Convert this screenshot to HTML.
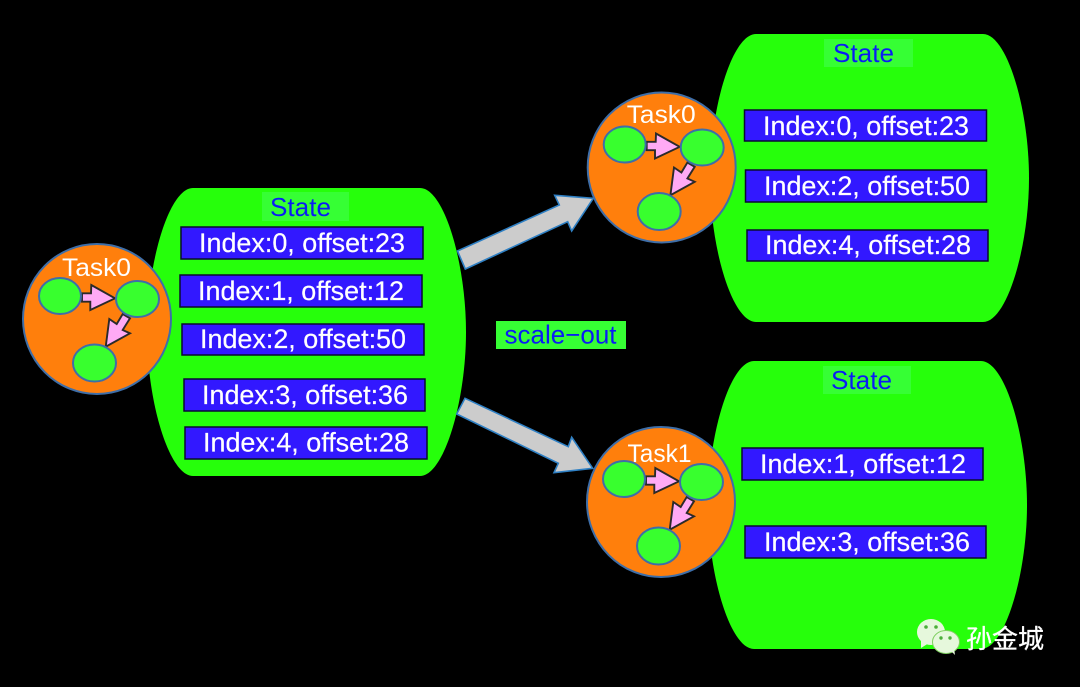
<!DOCTYPE html>
<html>
<head>
<meta charset="utf-8">
<style>
html,body{margin:0;padding:0;background:#000;width:1080px;height:687px;overflow:hidden}
svg{display:block}
text{font-family:"Liberation Sans","Noto Sans CJK SC",sans-serif}
.bar{fill:#3218ff;stroke:#0a0a30;stroke-width:1.5}
.idx{fill:#fff;font-size:26.5px;stroke:#fff;stroke-width:.2}
.st{fill:#36ff34}
.stt{fill:#0a1cf5;font-size:26px}
.big{fill:#ccc;stroke:#2f80c4;stroke-width:1.6;stroke-linejoin:miter}
.c{fill:#ff7f0c;stroke:#3e6ea8;stroke-width:2}
.n{fill:#38ff2e;stroke:#3e6ea8;stroke-width:2}
.a{fill:#ffaaf5;stroke:#2a2a2a;stroke-width:1.9}
.t{fill:#fff;font-size:25px}
</style>
</head>
<body>
<svg width="1080" height="687" viewBox="0 0 1080 687" xmlns="http://www.w3.org/2000/svg">
<rect width="1080" height="687" fill="#000"/>
<defs>
<path id="barrel" d="M46,0H273C297,0 319,75 319,144C319,213 297,288 273,288H46C22,288 0,213 0,144C0,75 22,0 46,0Z" fill="#26ff0b"/>
</defs>
<use href="#barrel" x="147" y="188"/>
<use href="#barrel" x="710" y="34"/>
<use href="#barrel" x="708" y="361"/>

<rect class="st" x="262" y="192" width="87" height="29"/>
<text class="stt" x="270" y="216" textLength="61" lengthAdjust="spacingAndGlyphs">State</text>
<rect class="st" x="824" y="39" width="89" height="28"/>
<text class="stt" x="833" y="62" textLength="61" lengthAdjust="spacingAndGlyphs">State</text>
<rect class="st" x="823" y="366" width="88" height="28"/>
<text class="stt" x="831" y="389" textLength="61" lengthAdjust="spacingAndGlyphs">State</text>

<rect class="bar" x="181" y="227" width="242" height="32"/>
<text class="idx" x="199" y="252" textLength="206" lengthAdjust="spacingAndGlyphs">Index:0, offset:23</text>
<rect class="bar" x="180" y="275" width="242" height="32"/>
<text class="idx" x="198" y="300" textLength="206" lengthAdjust="spacingAndGlyphs">Index:1, offset:12</text>
<rect class="bar" x="182" y="324" width="242" height="31"/>
<text class="idx" x="200" y="348" textLength="206" lengthAdjust="spacingAndGlyphs">Index:2, offset:50</text>
<rect class="bar" x="184" y="379" width="241" height="32"/>
<text class="idx" x="202" y="404" textLength="206" lengthAdjust="spacingAndGlyphs">Index:3, offset:36</text>
<rect class="bar" x="185" y="427" width="242" height="32"/>
<text class="idx" x="203" y="451.500" textLength="206" lengthAdjust="spacingAndGlyphs">Index:4, offset:28</text>

<rect class="bar" x="744.500" y="110" width="242" height="31"/>
<text class="idx" x="763" y="135" textLength="206" lengthAdjust="spacingAndGlyphs">Index:0, offset:23</text>
<rect class="bar" x="745.500" y="170" width="241" height="32"/>
<text class="idx" x="764" y="195" textLength="206" lengthAdjust="spacingAndGlyphs">Index:2, offset:50</text>
<rect class="bar" x="747" y="230" width="241" height="31"/>
<text class="idx" x="765" y="254" textLength="206" lengthAdjust="spacingAndGlyphs">Index:4, offset:28</text>

<rect class="bar" x="742" y="448" width="241" height="32"/>
<text class="idx" x="760" y="473" textLength="206" lengthAdjust="spacingAndGlyphs">Index:1, offset:12</text>
<rect class="bar" x="745" y="526" width="241" height="32"/>
<text class="idx" x="764" y="551" textLength="206" lengthAdjust="spacingAndGlyphs">Index:3, offset:36</text>

<rect class="st" x="496" y="321" width="130" height="28"/>
<text class="stt" x="504.500" y="343.500" textLength="112" lengthAdjust="spacingAndGlyphs">scale−out</text>

<polygon class="big" points="457.5,251 559.3,205 554.7,195.3 593.3,198.3 571.7,231 567.7,221.7 465.3,269"/>
<polygon class="big" points="465,398.3 568.3,446.7 571.7,437.3 592.7,468.3 554,472.7 558.3,463.3 456.7,414"/>

<!-- left task -->
<g>
<ellipse class="c" cx="97" cy="319" rx="74" ry="75"/>
<text class="t" x="62" y="276" textLength="69" lengthAdjust="spacingAndGlyphs">Task0</text>
<polygon class="a" points="82,293.300 91,293.300 91.300,285 115,298.300 90.300,310 90.300,301.700 82,301.700"/>
<polygon class="a" points="122.700,314 130,318.300 122.700,330 130,333.300 105.700,346.700 109.300,319 116.700,324"/>
<ellipse class="n" cx="60" cy="296" rx="21" ry="18"/>
<ellipse class="n" cx="137.500" cy="299" rx="21.500" ry="18"/>
<ellipse class="n" cx="94.500" cy="363" rx="21.500" ry="18.500"/>
</g>
<!-- top right task -->
<g transform="translate(564.7,-151.5)">
<ellipse class="c" cx="97" cy="319" rx="74" ry="75"/>
<text class="t" x="62" y="274.500" textLength="69" lengthAdjust="spacingAndGlyphs">Task0</text>
<polygon class="a" points="82,293.300 91,293.300 91.300,285 115,298.300 90.300,310 90.300,301.700 82,301.700"/>
<polygon class="a" points="122.700,314 130,318.300 122.700,330 130,333.300 105.700,346.700 109.300,319 116.700,324"/>
<ellipse class="n" cx="60" cy="296" rx="21" ry="18"/>
<ellipse class="n" cx="137.500" cy="299" rx="21.500" ry="18"/>
<ellipse class="n" cx="94.500" cy="363" rx="21.500" ry="18.500"/>
</g>
<!-- bottom right task -->
<g transform="translate(564,183)">
<ellipse class="c" cx="97" cy="319" rx="74" ry="75"/>
<text class="t" x="63.500" y="279" textLength="64" lengthAdjust="spacingAndGlyphs">Task1</text>
<polygon class="a" points="82,293.300 91,293.300 91.300,285 115,298.300 90.300,310 90.300,301.700 82,301.700"/>
<polygon class="a" points="122.700,314 130,318.300 122.700,330 130,333.300 105.700,346.700 109.300,319 116.700,324"/>
<ellipse class="n" cx="60" cy="296" rx="21" ry="18"/>
<ellipse class="n" cx="137.500" cy="299" rx="21.500" ry="18"/>
<ellipse class="n" cx="94.500" cy="363" rx="21.500" ry="18.500"/>
</g>

<!-- watermark -->
<g>
<ellipse cx="931" cy="632" rx="14" ry="13" fill="#e6f8dc"/>
<polygon points="921,640 921,648 929,643" fill="#e6f8dc"/>
<circle cx="926" cy="627" r="1.8" fill="#4caf3a"/>
<circle cx="936" cy="627" r="1.8" fill="#4caf3a"/>
<ellipse cx="946" cy="642" rx="13.500" ry="11.500" fill="#e6f8dc" stroke="#7fd060" stroke-width="1"/>
<polygon points="950,650 955,655 954,648" fill="#e6f8dc"/>
<circle cx="941" cy="638" r="1.7" fill="#4caf3a"/>
<circle cx="950" cy="638" r="1.7" fill="#4caf3a"/>
<text x="966" y="648" fill="#fff" stroke="#fff" stroke-width=".3" style="font-size:26px;font-family:'Liberation Sans','Noto Sans CJK SC',sans-serif" textLength="78" lengthAdjust="spacingAndGlyphs">孙金城</text>
</g>
</svg>
</body>
</html>
